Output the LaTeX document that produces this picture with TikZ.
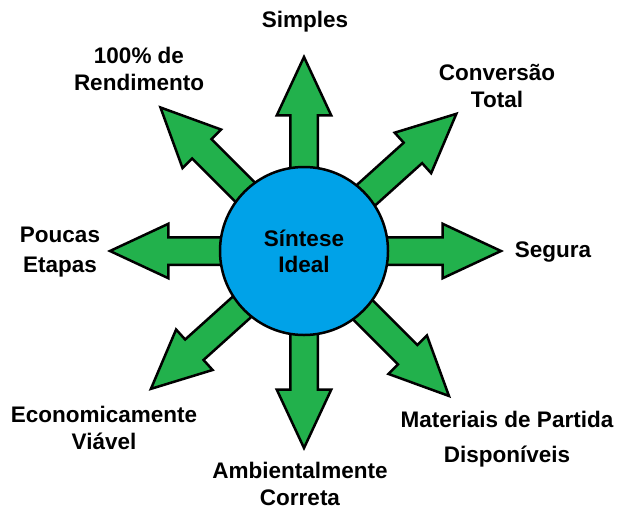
\documentclass[tikz,border=0pt]{standalone}
\usepackage{fontspec}
\setmainfont{Liberation Sans}
\usetikzlibrary{shapes.arrows}
\definecolor{paintgreen}{RGB}{34,177,76}
\definecolor{paintblue}{RGB}{0,162,232}

\begin{document}
\begin{tikzpicture}[x=1pt, y=-1pt]
\tikzset{ lbl/.style={font=\bfseries\fontsize{22.5}{27}\selectfont, align=center, inner sep=0pt},
  hub/.style={circle, draw=black, line width=2.5pt, fill=paintblue, minimum size=168pt, inner sep=0pt,
    font=\bfseries\fontsize{22.5}{26}\selectfont, align=center},
  blockarrow/.style={single arrow, draw=black, fill=paintgreen, line width=2.5pt, minimum width=52pt,
    single arrow head extend=13.5pt, single arrow tip angle=50, inner xsep=0pt, inner ysep=12.5pt,
    outer sep=0pt, anchor=tail, minimum height=#1},
}

\useasboundingbox (0,0) rectangle (617,506);

\coordinate (c) at (304,251);

% arrows first, the circle covers their tails
\foreach \ang/\len [count=\i] in {90/194, 42/205, 0/197, -45/205, -90/197, -138/206, 180/194, 135/203}
  \node [blockarrow=\len pt, rotate=\ang] (arr\i) at (c) {};

\node [hub] (hub) at (c) {Síntese\\Ideal};

\node [lbl] (simples)   at (305,22)    {Simples};
\node [lbl] (conversao) at (497,85.5)  {Conversão\\Total};
\node [lbl] (segura)    at (553,252)   {Segura};
\node [lbl] (materiais) at (507,439.5) {Materiais de Partida\\[8pt]Disponíveis};
\node [lbl] (ambiente)  at (300,484)   {Ambientalmente\\Correta};
\node [lbl] (economia)  at (104,427.5) {Economicamente\\Viável};
\node [lbl] (etapas)    at (60,252)    {Poucas\\[3pt]Etapas};
\node [lbl] (rendim)    at (139,68.5)  {100\% de\\Rendimento};

\end{tikzpicture}
\end{document}
